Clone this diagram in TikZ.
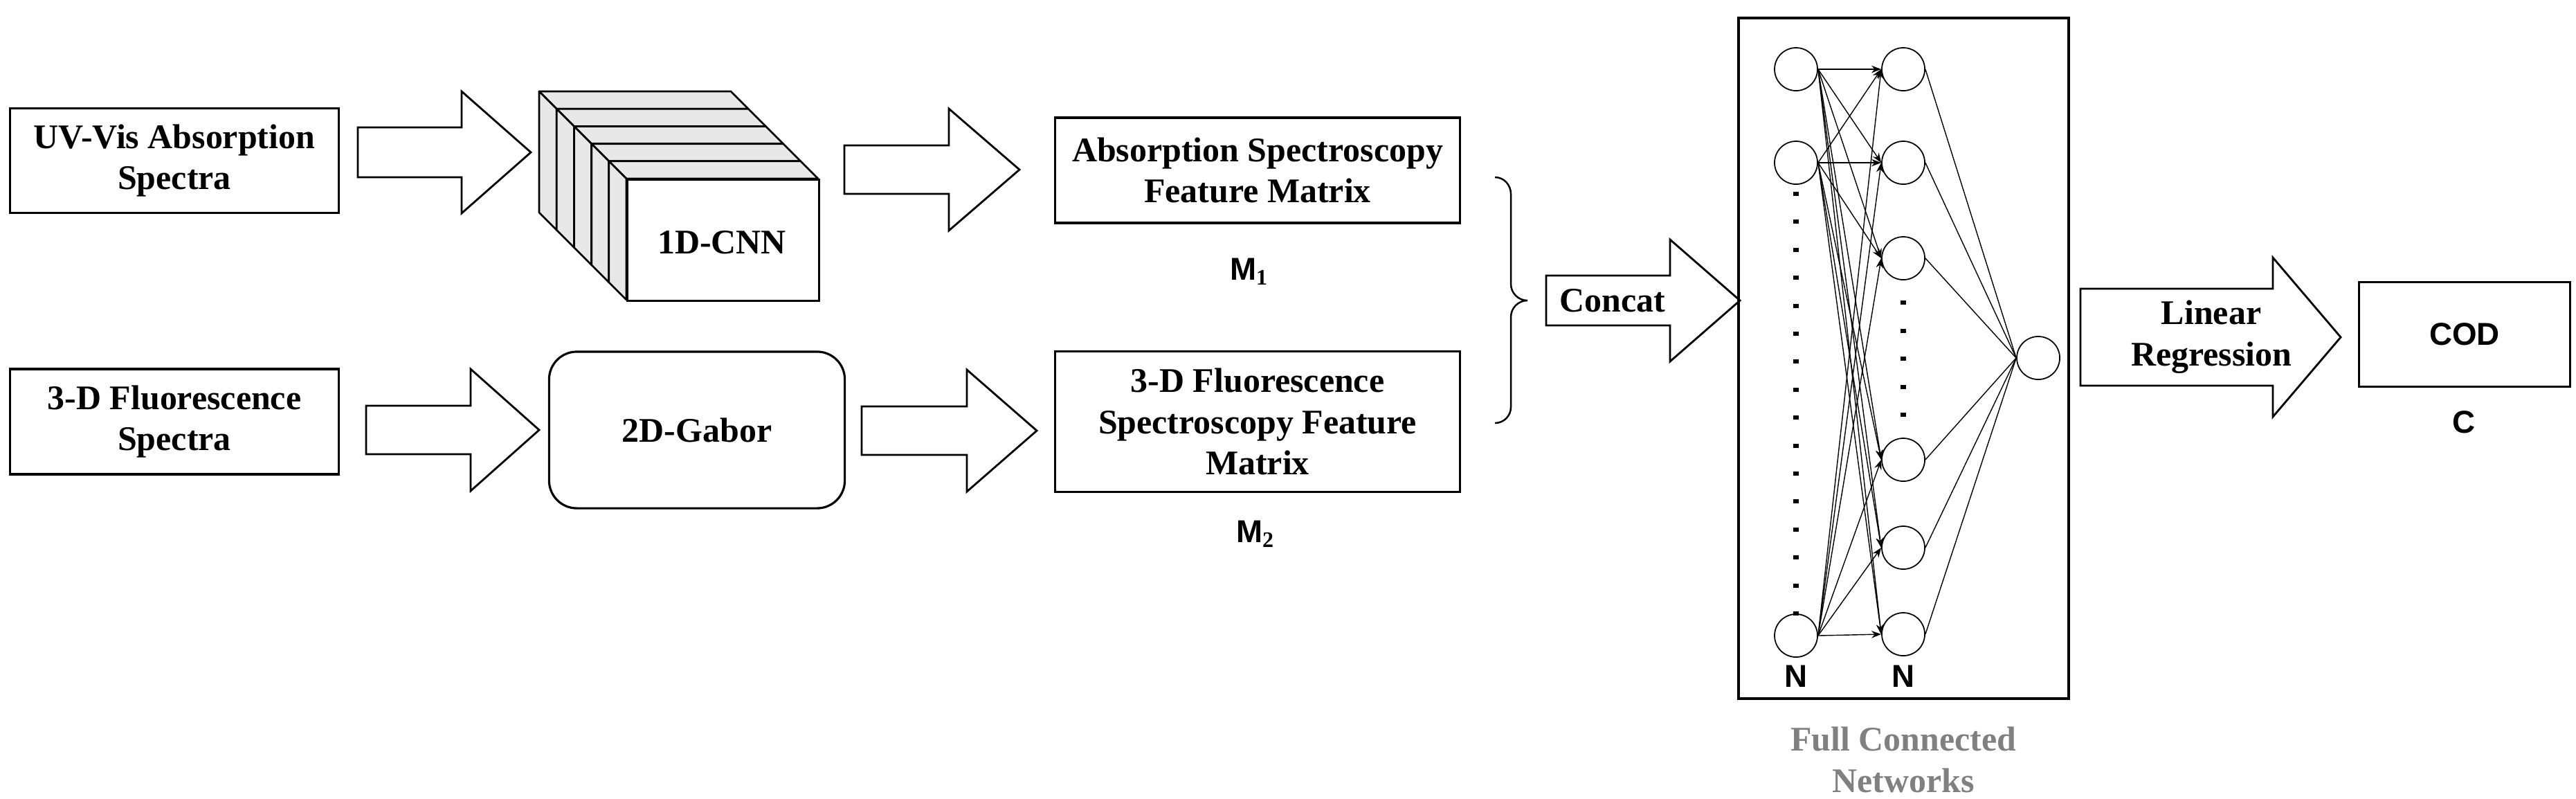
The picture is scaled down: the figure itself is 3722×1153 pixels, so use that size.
\documentclass[tikz,border=0pt]{standalone}
\usepackage{fontspec}
\setmainfont{Liberation Serif}
\newfontfamily\sansf{Liberation Sans}
\usetikzlibrary{arrows.meta}
\newcommand\blockarr[7]{% name, x1, xh, xtip, cy, bh, hh
  \draw[barr] (#2,#5-#6) -- (#3,#5-#6) -- (#3,#5-#7) -- (#4,#5) -- (#3,#5+#7) -- (#3,#5+#6) -- (#2,#5+#6) -- cycle;
  \coordinate (#1) at (#2/2+#3/2,#5);}
\newcommand\mainfs{\fontsize{14.2}{17}\selectfont\bfseries}
\begin{document}
\begin{tikzpicture}[x=0.01cm,y=-0.01cm,
  box/.style={draw,line width=0.9pt,fill=white,align=center,font=\mainfs,inner sep=0pt},
  barr/.style={draw,line width=0.8pt,fill=white,line join=miter},
  lbl/.style={font=\sansf\bfseries\fontsize{13}{15}\selectfont},
  neu/.style={draw,circle,minimum size=0.62cm,inner sep=0pt,line width=0.5pt},
  con/.style={line width=0.4pt,-{Stealth[length=4pt,width=3pt]}},
  txt/.style={font=\mainfs,align=center}]
\useasboundingbox (0,0) rectangle (3722,1153);
% input boxes
\node[box,minimum width=4.74cm,minimum height=1.51cm] (uv) at (252,232) {UV-Vis Absorption\\Spectra};
\node[box,minimum width=4.74cm,minimum height=1.52cm] (fl) at (252,609) {3-D Fluorescence\\Spectra};
% arrows
\blockarr{a1}{517}{667}{767}{220}{36}{88}
\blockarr{a3}{529}{680}{779}{621}{35}{88}
% CNN cube
\foreach \i in {0,...,4}{
  \pgfmathsetmacro\bx{779+25.2*\i}\pgfmathsetmacro\by{132+25.2*\i}
  \pgfmathsetmacro\fx{\bx+25.2}\pgfmathsetmacro\fy{\by+25.2}
  \draw[line width=0.8pt,fill=black!9,line join=round] (\bx,\by) -- (\bx+277,\by) -- (\fx+277,\fy) -- (\fx,\fy) -- cycle;
  \draw[line width=0.8pt,fill=black!9,line join=round] (\bx,\by) -- (\fx,\fy) -- (\fx,\fy+175) -- (\bx,\by+175) -- cycle;
}
\node[box,minimum width=2.77cm,minimum height=1.75cm,anchor=north west,line width=0.8pt] (cnn) at (905,258) {};
\node[txt] (cnnl) at (1043,350) {1D-CNN};
% Gabor
\node[box,rounded corners=0.4cm,minimum width=4.27cm,minimum height=2.26cm] (gab) at (1007,621) {2D-Gabor};
\blockarr{a2}{1220}{1371}{1473}{245}{35}{88}
\blockarr{a4}{1245}{1397}{1498}{622}{35}{88}
% feature boxes
\node[box,minimum width=5.84cm,minimum height=1.52cm] (m1) at (1817,246) {Absorption Spectroscopy\\Feature Matrix};
\node[box,minimum width=5.84cm,minimum height=2.03cm] (m2) at (1817,609) {3-D Fluorescence\\Spectroscopy Feature\\Matrix};
\node[lbl] (m1l) at (1805,392) {M$_\mathbf{1}$};
\node[lbl] (m2l) at (1814,771) {M$_\mathbf{2}$};
% brace
\draw[line width=0.7pt] (2160,256) to[out=0,in=90] (2183,280) -- (2183,410) to[out=-90,in=180] (2207,434)
  to[out=180,in=90] (2183,458) -- (2183,588) to[out=-90,in=0] (2160,611);
\blockarr{ac}{2234}{2413}{2514}{434}{36}{88}
\node[txt] (cc) at (2330,434) {Concat};
% FC box
\draw[line width=0.9pt] (2512,26) rectangle (2989,1009);
\foreach \n/\y in {a/100,b/235,c/918}{\node[neu] (p\n) at (2595,\y) {};}
\foreach \n/\y in {a/100,b/235,c/373,d/664,e/791,f/916}{\node[neu] (q\n) at (2750,\y) {};}
\node[neu] (out) at (2945,517) {};
\foreach \p in {a,b,c}{\foreach \q in {a,b,c,d,e,f}{\draw[con] (p\p.east) -- (q\q.west);}}
\foreach \q in {a,b,c,d,e,f}{\draw[line width=0.4pt] (q\q.east) -- (out.west);}
\foreach \k in {0,...,15}{\fill (2591,277+40.4*\k) rectangle (2599,283+40.4*\k);}
\foreach \k in {0,...,4}{\fill (2746,434+40.6*\k) rectangle (2754,440+40.6*\k);}
\node[lbl] (n1) at (2595,977) {N};
\node[lbl] (n2) at (2750,977) {N};
\node[txt,text=black!50] (fcn) at (2750,1097) {Full Connected\\Networks};
% output
\blockarr{alr}{3006}{3284}{3382}{487}{70}{115}
\node[txt] (lr) at (3195,487) {Linear\\Regression};
\node[box,minimum width=3.05cm,minimum height=1.51cm,font=\sansf\bfseries\fontsize{13}{15}\selectfont] (cod) at (3561,483) {COD};
\node[lbl] (cl) at (3560,610) {C};
\end{tikzpicture}
\end{document}
